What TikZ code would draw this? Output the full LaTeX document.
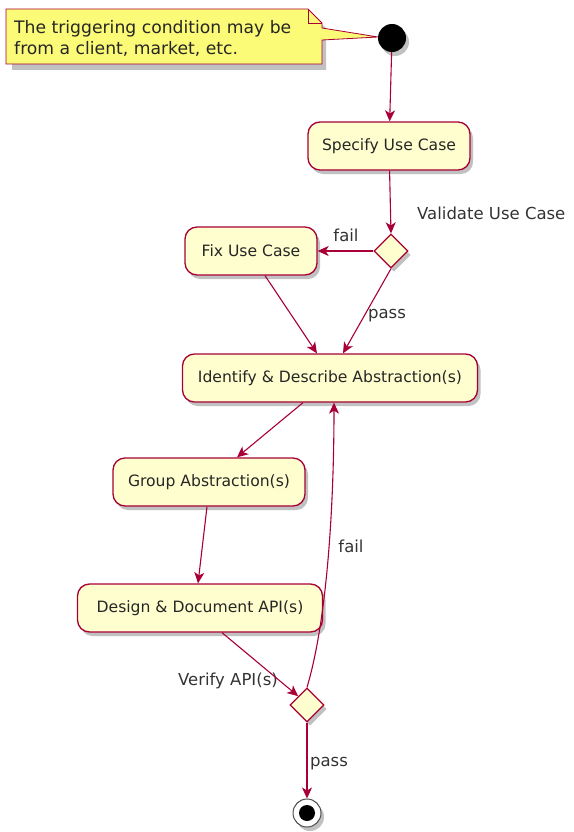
\documentclass[tikz,border=0pt]{standalone}
\usepackage{fontspec}
\setmainfont{DejaVu Sans}
\usetikzlibrary{arrows.meta,shadows,shapes.geometric}
\definecolor{umlborder}{HTML}{A80036}
\definecolor{umlfill}{HTML}{FEFECE}
\definecolor{notefill}{HTML}{FBFB77}
\tikzset{
  umlshadow/.style={drop shadow={shadow xshift=3pt,shadow yshift=-4pt,opacity=0.35,fill=black!70}},
  activity/.style={draw=umlborder,fill=umlfill,line width=1.3pt,rounded corners=12pt,
    minimum height=48pt,inner xsep=10pt,font=\fontsize{15.6}{18}\selectfont,text=black!85,umlshadow},
  decision/.style={draw=umlborder,fill=umlfill,line width=1.3pt,diamond,minimum width=34pt,
    minimum height=34pt,inner sep=0pt,umlshadow},
  flow/.style={draw=umlborder,line width=1.1pt,-{Stealth[length=11pt,width=10pt,inset=3pt]}},
  lbl/.style={font=\fontsize{16.5}{18}\selectfont,text=black!80,inner sep=0pt},
}
\begin{document}
\begin{tikzpicture}[x=1pt,y=-1pt]
\useasboundingbox (0,0) rectangle (573,832);
% note with folded corner
\fill[black!70,opacity=0.35] (12,14) -- (310,14) -- (326,28) -- (326,70) -- (12,70) -- cycle;
\draw[umlborder,line width=0.8pt,fill=notefill]
  (6,9) -- (308,9) -- (322,23) -- (322,28) -- (378,37) -- (322,40) -- (322,64) -- (6,64) -- cycle;
\draw[umlborder,line width=0.8pt] (308,9) -- (308,23) -- (322,23);
\node[anchor=north west,align=left,font=\fontsize{17.2}{21.5}\selectfont,text=black!85,inner sep=0pt]
  (note) at (14,20) {The triggering condition may be\\from a client, market, etc.};
% start
\node[circle,fill=black,minimum size=28pt,inner sep=0pt,umlshadow] (start) at (392,38) {};
% activities
\node[activity,minimum width=162pt] (spec) at (389,146) {Specify Use Case};
\node[decision] (d1) at (391,251) {};
\node[activity,minimum width=132pt] (fix) at (251,251) {Fix Use Case};
\node[activity,minimum width=295pt] (ident) at (330,378) {Identify \& Describe Abstraction(s)};
\node[activity,minimum width=192pt] (group) at (209,482) {Group Abstraction(s)};
\node[activity,minimum width=245pt] (design) at (200,608) {Design \& Document API(s)};
\node[decision] (d2) at (307,705) {};
% end
\node[circle,draw=black!70,fill=white,line width=1pt,minimum size=28pt,inner sep=0pt,umlshadow] (stop) at (307,813) {};
\node[circle,fill=black,minimum size=16pt,inner sep=0pt] (stopdot) at (stop) {};
% labels
\node[lbl,anchor=west] (vuc) at (417,213) {Validate Use Case};
\node[lbl] (fail1) at (346,235) {fail};
\node[lbl] (pass1) at (387,316) {pass};
\node[lbl] (fail2) at (351,546) {fail};
\node[lbl,anchor=east] (vapi) at (278,681) {Verify API(s)};
\node[lbl] (pass2) at (329,764) {pass};
% connectors
\draw[flow] (start) -- (spec);
\draw[flow] (spec) -- (d1.north);
\draw[flow] (d1.west) -- (fix.east);
\draw[flow] ([xshift=14pt]fix.south) -- ([xshift=-13pt]ident.north);
\draw[flow] (d1.south) -- ([xshift=13pt]ident.north);
\draw[flow] ([xshift=-27pt]ident.south) -- ([xshift=28pt]group.north);
\draw[flow] ([xshift=-2pt]group.south) -- ([xshift=-2pt]design.north);
\draw[flow] ([xshift=22pt]design.south) -- (d2.north west);
\draw[flow] (d2.north) .. controls (330,610) and (334,480) .. ([xshift=4pt]ident.south);
\draw[flow] (d2.south) -- (stop.north);
\end{tikzpicture}
\end{document}
